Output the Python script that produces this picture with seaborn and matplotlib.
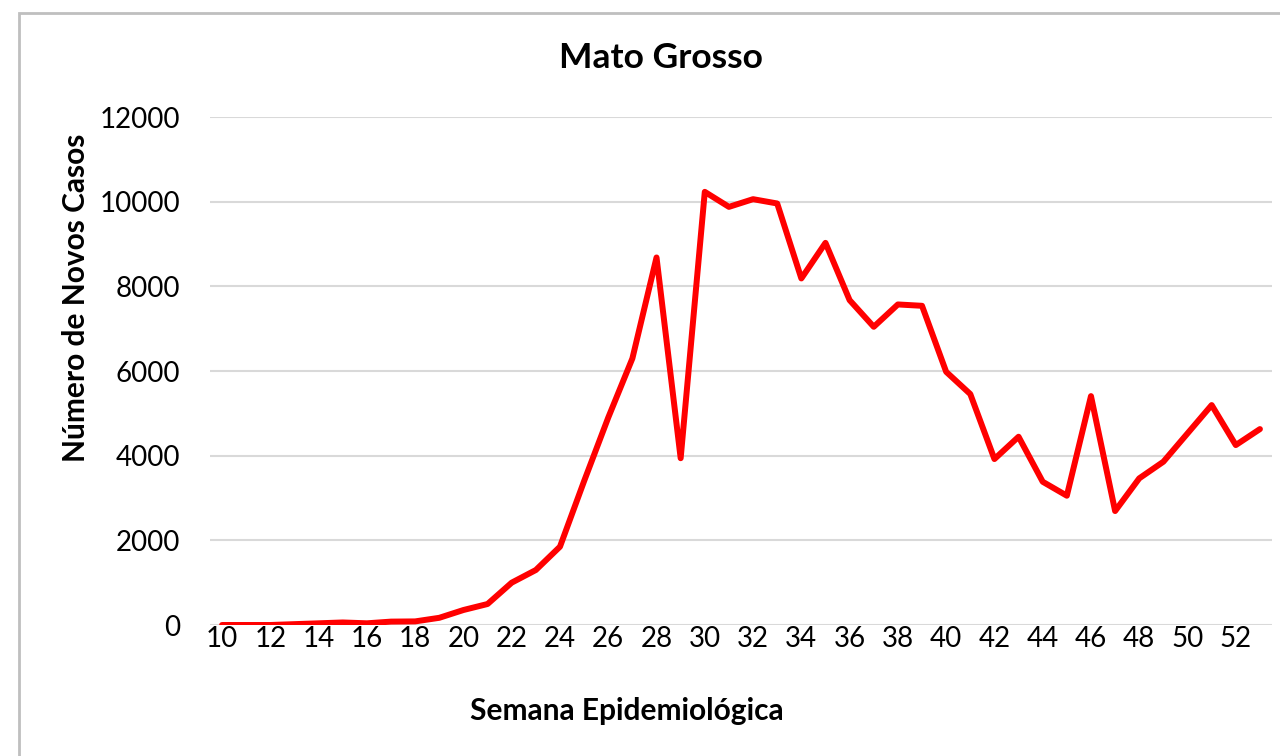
import matplotlib
matplotlib.use("Agg")
import pandas as pd
import seaborn as sns
import matplotlib.pyplot as plt
from matplotlib.patches import Rectangle

# epidemiological weeks and new cases
semanas = list(range(10, 54))
casos = [
    0, 0, 0, 20, 40, 60, 40, 80, 85, 170,
    354, 496, 1000, 1299, 1850, 3400, 4900, 6297, 8682, 3940,
    10232, 9877, 10059, 9957, 8186, 9027, 7674, 7044, 7572, 7540,
    5981, 5455, 3920, 4447, 3384, 3054, 5407, 2692, 3464, 3857,
    4526, 5195, 4250, 4628,
]
x_ticks = list(range(10, 53, 2))
y_ticks = [0, 2000, 4000, 6000, 8000, 10000, 12000]

df = pd.DataFrame({"semana": semanas, "casos": casos})

sns.set_theme(style="white")
plt.rcParams['font.family'] = ['Lato', 'DejaVu Sans']
plt.rcParams['text.color'] = 'black'

fig = plt.figure(figsize=(12.8, 7.56), dpi=100)
ax = fig.add_axes([210 / 1280, 131 / 756, 1062 / 1280, 508 / 756])

sns.lineplot(data=df, x="semana", y="casos", color="#FF0000",
             linewidth=4.3, ax=ax, solid_joinstyle="round",
             solid_capstyle="round")

ax.set_xlim(9.5, 53.5)
ax.set_ylim(0, 12000)
ax.set_xticks(x_ticks)
ax.set_yticks(y_ticks)
ax.set_xticklabels([str(t) for t in x_ticks], fontsize=20)
ax.set_yticklabels([str(t) for t in y_ticks], fontsize=20)
ax.tick_params(axis="both", length=0, colors="black")
ax.tick_params(axis="y", pad=21.5)
ax.tick_params(axis="x", pad=1)
ax.yaxis.grid(True, color="#D9D9D9", linewidth=1.5)
ax.set_axisbelow(True)
for s in ax.spines.values():
    s.set_visible(False)
ax.set_xlabel("")
ax.set_ylabel("")

fig.text(661 / 1280, 1 - 58 / 756, "Mato Grosso", ha="center", va="center",
         fontsize=25.5, fontweight="bold", color="black")
fig.text(627 / 1280, 1 - 711 / 756, "Semana Epidemiológica", ha="center",
         va="center", fontsize=21.5, fontweight="bold", color="black")
fig.text(76 / 1280, 1 - 298 / 756, "Número de Novos Casos", ha="center",
         va="center", rotation=90, fontsize=21.5, fontweight="bold",
         color="black")

# chart frame (cut off at right and bottom)
fig.patches.append(Rectangle((19 / 1280, -0.1), 2, 1 - 13 / 756 + 0.1,
                             transform=fig.transFigure, fill=False,
                             edgecolor="#BFBFBF", linewidth=2))

fig.savefig("out.png", dpi=100)
